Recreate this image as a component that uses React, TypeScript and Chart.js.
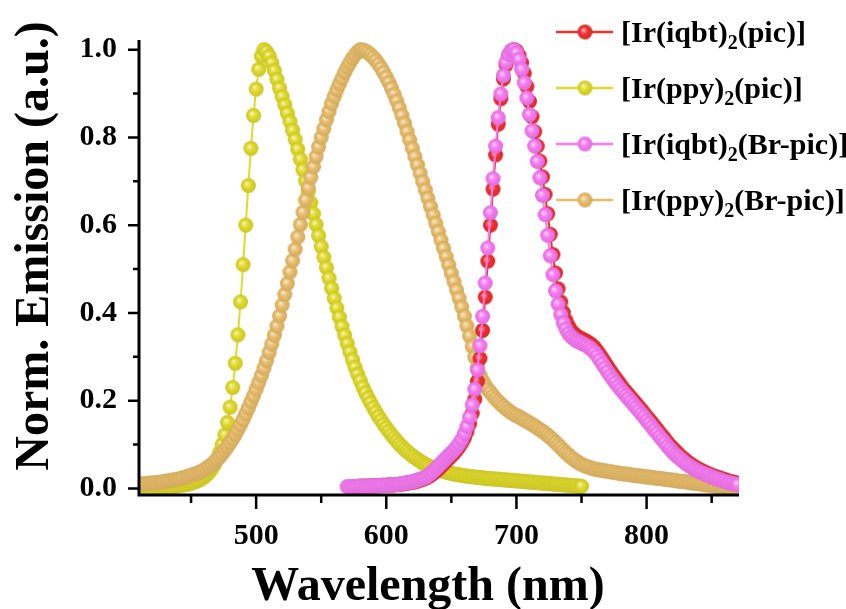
import React, { useEffect, useRef } from "react";
import { Chart, registerables } from "chart.js";
Chart.register(...registerables);

const STEP = 2;
const xMin = 410;
const xMax = 871;
const yMin = -0.015;
const yMax = 1.022;
const xTickValues = [500, 600, 700, 800];
const xMinorTicks = [450, 550, 650, 750, 850];
const yTickValues = [0, 0.2, 0.4, 0.6, 0.8, 1.0];
const yMinorTicks = [0.1, 0.3, 0.5, 0.7, 0.9];

const seriesLabels = [
  "[Ir(iqbt)2(pic)]",
  "[Ir(ppy)2(pic)]",
  "[Ir(iqbt)2(Br-pic)]",
  "[Ir(ppy)2(Br-pic)]",
];
const seriesColors = ["#EE3030", "#E0DA2A", "#F77AF2", "#E8BD6A"];

const redStart = 580;
const redValues = [
  0.005,0.005,0.005,0.005,0.006,0.006,0.006,0.006,0.007,0.007,
  0.007,0.008,0.008,0.008,0.009,0.009,0.010,0.011,0.012,0.013,
  0.014,0.015,0.017,0.019,0.021,0.023,0.026,0.030,0.034,0.039,
  0.044,0.050,0.056,0.062,0.068,0.074,0.080,0.087,0.095,0.104,
  0.115,0.129,0.147,0.171,0.203,0.244,0.296,0.360,0.436,0.518,
  0.600,0.682,0.760,0.830,0.888,0.933,0.965,0.985,0.996,1.000,
  0.997,0.987,0.970,0.946,0.916,0.882,0.847,0.813,0.780,0.746,
  0.710,0.670,0.626,0.579,0.533,0.491,0.455,0.425,0.401,0.383,
  0.370,0.360,0.353,0.348,0.344,0.341,0.338,0.335,0.331,0.327,
  0.321,0.313,0.305,0.296,0.287,0.278,0.269,0.260,0.252,0.244,
  0.236,0.228,0.221,0.214,0.207,0.200,0.193,0.186,0.179,0.172,
  0.164,0.157,0.150,0.142,0.135,0.127,0.120,0.113,0.105,0.098,
  0.092,0.086,0.080,0.074,0.069,0.064,0.059,0.055,0.051,0.047,
  0.044,0.041,0.038,0.035,0.033,0.030,0.028,0.026,0.024,0.022,
  0.020,0.018,0.016,0.015,0.013,
  0.012,
];

const yellowStart = 410;
const yellowValues = [
  0.000,0.000,0.000,0.001,0.001,0.001,0.001,0.002,0.002,0.002,
  0.003,0.003,0.004,0.004,0.005,0.006,0.007,0.008,0.009,0.010,
  0.012,0.014,0.016,0.019,0.022,0.026,0.031,0.037,0.045,0.055,
  0.067,0.082,0.100,0.122,0.150,0.185,0.230,0.285,0.350,0.425,
  0.510,0.600,0.690,0.775,0.850,0.910,0.955,0.985,1.000,0.995,
  0.985,0.970,0.952,0.932,0.912,0.893,0.874,0.855,0.836,0.816,
  0.795,0.773,0.750,0.726,0.701,0.676,0.651,0.626,0.601,0.576,
  0.551,0.527,0.503,0.479,0.456,0.433,0.411,0.390,0.369,0.349,
  0.330,0.311,0.293,0.276,0.260,0.245,0.231,0.218,0.206,0.195,
  0.184,0.174,0.164,0.155,0.146,0.138,0.130,0.122,0.115,0.108,
  0.101,0.095,0.089,0.084,0.079,0.074,0.070,0.066,0.062,0.058,
  0.055,0.052,0.049,0.047,0.045,0.043,0.041,0.039,0.037,0.036,
  0.034,0.033,0.032,0.031,0.030,0.029,0.028,0.027,0.027,0.026,
  0.025,0.025,0.024,0.023,0.023,0.022,0.022,0.021,0.021,0.020,
  0.020,0.019,0.019,0.018,0.018,0.017,0.017,0.016,0.016,0.015,
  0.015,0.014,0.014,0.013,0.013,0.012,0.012,0.011,0.011,0.010,
  0.010,0.009,0.009,0.008,0.008,0.007,0.007,0.006,0.006,0.005,
  0.005,
];

const pinkStart = 570;
const pinkValues = [
  0.004,0.004,0.004,0.004,0.005,0.005,0.005,0.005,0.005,0.006,
  0.006,0.006,0.006,0.007,0.007,0.007,0.008,0.008,0.009,0.009,
  0.010,0.011,0.012,0.013,0.014,0.015,0.017,0.019,0.021,0.023,
  0.025,0.029,0.034,0.039,0.045,0.051,0.057,0.063,0.069,0.075,
  0.081,0.087,0.094,0.102,0.112,0.125,0.141,0.162,0.190,0.226,
  0.270,0.325,0.392,0.468,0.548,0.628,0.706,0.780,0.845,0.899,
  0.941,0.971,0.989,0.998,1.000,0.993,0.978,0.955,0.925,0.890,
  0.852,0.815,0.780,0.745,0.708,0.668,0.624,0.577,0.530,0.487,
  0.450,0.420,0.396,0.377,0.363,0.353,0.346,0.341,0.337,0.334,
  0.331,0.328,0.325,0.321,0.316,0.310,0.302,0.293,0.284,0.275,
  0.266,0.257,0.249,0.241,0.233,0.226,0.219,0.212,0.205,0.198,
  0.191,0.184,0.177,0.170,0.163,0.155,0.148,0.140,0.133,0.126,
  0.118,0.111,0.104,0.096,0.090,0.083,0.077,0.072,0.067,0.062,
  0.057,0.053,0.049,0.045,0.042,0.039,0.036,0.034,0.031,0.029,
  0.026,0.024,0.022,0.020,0.018,0.016,0.014,0.013,0.011,0.010,
  0.009,
];

const orangeStart = 410;
const orangeValues = [
  0.010,0.010,0.011,0.011,0.012,0.012,0.013,0.013,0.014,0.015,
  0.016,0.017,0.018,0.019,0.020,0.021,0.023,0.024,0.026,0.028,
  0.030,0.032,0.034,0.036,0.039,0.042,0.046,0.050,0.055,0.060,
  0.066,0.072,0.079,0.087,0.095,0.104,0.113,0.123,0.134,0.145,
  0.157,0.170,0.183,0.197,0.211,0.226,0.241,0.257,0.274,0.291,
  0.310,0.329,0.349,0.370,0.393,0.418,0.442,0.467,0.493,0.519,
  0.545,0.573,0.601,0.629,0.657,0.685,0.709,0.733,0.756,0.778,
  0.800,0.820,0.840,0.859,0.877,0.893,0.908,0.922,0.935,0.948,
  0.960,0.970,0.980,0.988,0.995,1.000,0.999,0.997,0.993,0.988,
  0.982,0.975,0.967,0.958,0.948,0.937,0.925,0.912,0.898,0.883,
  0.867,0.850,0.832,0.813,0.794,0.775,0.756,0.737,0.718,0.699,
  0.680,0.661,0.642,0.623,0.604,0.585,0.566,0.547,0.528,0.509,
  0.490,0.471,0.452,0.433,0.413,0.392,0.370,0.347,0.323,0.299,
  0.276,0.258,0.245,0.235,0.226,0.219,0.211,0.204,0.198,0.192,
  0.187,0.182,0.177,0.173,0.169,0.166,0.163,0.160,0.156,0.153,
  0.149,0.146,0.142,0.138,0.134,0.130,0.126,0.121,0.116,0.111,
  0.105,0.099,0.093,0.087,0.081,0.076,0.071,0.066,0.062,0.058,
  0.055,0.052,0.050,0.048,0.046,0.044,0.043,0.042,0.041,0.040,
  0.039,0.038,0.037,0.036,0.035,0.034,0.033,0.033,0.032,0.031,
  0.030,0.029,0.029,0.028,0.027,0.026,0.026,0.025,0.024,0.023,
  0.023,0.022,0.021,0.020,0.020,0.019,0.018,0.017,0.016,0.016,
  0.015,0.014,0.013,0.012,0.012,0.011,0.010,0.009,0.008,0.008,
  0.007,0.006,0.005,0.005,0.004,0.003,0.003,0.002,0.001,0.001,
  0.001,
];

function toPoints(start: number, vals: number[]) {
  return vals.map((v, i) => ({ x: start + i * STEP, y: v }));
}

function hexToRgb(h: string) {
  const n = parseInt(h.slice(1), 16);
  return [(n >> 16) & 255, (n >> 8) & 255, n & 255];
}
function mix(h: string, t: number, withWhite = true) {
  const [r, g, b] = hexToRgb(h);
  const tgt = withWhite ? 255 : 0;
  const f = (c: number) => Math.round(c + (tgt - c) * t);
  return `rgb(${f(r)},${f(g)},${f(b)})`;
}

function makeBall(color: string, r: number) {
  const size = Math.ceil(r * 2) + 2;
  const c = document.createElement("canvas");
  c.width = size;
  c.height = size;
  const g = c.getContext("2d")!;
  const cx = size / 2;
  const cy = size / 2;
  const grad = g.createRadialGradient(cx - r * 0.25, cy - r * 0.3, 0, cx, cy, r);
  grad.addColorStop(0, mix(color, 0.8));
  grad.addColorStop(0.2, mix(color, 0.4));
  grad.addColorStop(0.5, color);
  grad.addColorStop(1, mix(color, 0.1, false));
  g.fillStyle = grad;
  g.beginPath();
  g.arc(cx, cy, r, 0, Math.PI * 2);
  g.fill();
  return c;
}

function drawRich(ctx: CanvasRenderingContext2D, text: string, x: number, baseline: number, size: number) {
  const parts = text.split("2");
  let cx = x;
  parts.forEach((p, i) => {
    ctx.font = `bold ${size}px "Liberation Serif"`;
    ctx.fillText(p, cx, baseline);
    cx += ctx.measureText(p).width;
    if (i < parts.length - 1) {
      ctx.font = `bold ${Math.round(size * 0.65)}px "Liberation Serif"`;
      ctx.fillText("2", cx, baseline + size * 0.22);
      cx += ctx.measureText("2").width;
    }
  });
}

export default function App() {
  const ref = useRef<HTMLCanvasElement | null>(null);
  useEffect(() => {
    if (!ref.current) return;
    const balls = seriesColors.map((c) => makeBall(c, 7.5));
    const legendBalls = seriesColors.map((c) => makeBall(c, 7.5));
    const seriesData = [
      toPoints(redStart, redValues),
      toPoints(yellowStart, yellowValues),
      toPoints(pinkStart, pinkValues),
      toPoints(orangeStart, orangeValues),
    ];
    // lower order is drawn on top
    const orders = [1, 3, 0, 2];

    const decor = {
      id: "decor",
      afterDatasetsDraw(chart: any) {
        const { ctx, chartArea } = chart;
        const { left, right, top, bottom } = chartArea;
        const xs = chart.scales.x;
        const ys = chart.scales.y;
        ctx.save();
        ctx.strokeStyle = "#000";
        ctx.lineWidth = 3;
        ctx.beginPath();
        ctx.moveTo(left, top);
        ctx.lineTo(left, bottom + 1.5);
        ctx.moveTo(left - 1.5, bottom);
        ctx.lineTo(right, bottom);
        ctx.stroke();
        ctx.lineWidth = 2.5;
        ctx.beginPath();
        xTickValues.forEach((v) => {
          const p = xs.getPixelForValue(v);
          ctx.moveTo(p, bottom);
          ctx.lineTo(p, bottom + 14);
        });
        xMinorTicks.forEach((v) => {
          const p = xs.getPixelForValue(v);
          ctx.moveTo(p, bottom);
          ctx.lineTo(p, bottom + 8);
        });
        yTickValues.forEach((v) => {
          const p = ys.getPixelForValue(v);
          ctx.moveTo(left, p);
          ctx.lineTo(left - 11, p);
        });
        yMinorTicks.forEach((v) => {
          const p = ys.getPixelForValue(v);
          ctx.moveTo(left, p);
          ctx.lineTo(left - 6, p);
        });
        ctx.stroke();
        ctx.restore();
      },
      afterDraw(chart: any) {
        const { ctx } = chart;
        ctx.save();
        ctx.fillStyle = "#000";
        ctx.textAlign = "center";
        ctx.textBaseline = "alphabetic";
        ctx.font = 'bold 48px "Liberation Serif"';
        ctx.fillText("Wavelength (nm)", 428, 600);
        ctx.save();
        ctx.translate(48, 246);
        ctx.rotate(-Math.PI / 2);
        ctx.fillText("Norm. Emission (a.u.)", 0, 0);
        ctx.restore();
        const rowY = [32, 88, 144, 200];
        ctx.textAlign = "left";
        seriesLabels.forEach((lab, i) => {
          const y = rowY[i];
          ctx.strokeStyle = seriesColors[i];
          ctx.lineWidth = 2.5;
          ctx.beginPath();
          ctx.moveTo(556, y);
          ctx.lineTo(613, y);
          ctx.stroke();
          const b = legendBalls[i];
          ctx.drawImage(b, 585 - b.width / 2, y - b.height / 2);
          ctx.fillStyle = "#000";
          drawRich(ctx, lab, 621, y + 10, 30);
        });
        ctx.restore();
      },
    };

    const chart = new Chart(ref.current, {
      type: "line",
      data: {
        datasets: seriesData.map((d, i) => ({
          label: seriesLabels[i],
          data: d,
          borderColor: seriesColors[i],
          backgroundColor: seriesColors[i],
          borderWidth: 2,
          pointStyle: balls[i] as any,
          pointRadius: 7.5,
          pointHoverRadius: 7.5,
          tension: 0,
          fill: false,
          order: orders[i],
        })),
      },
      options: {
        responsive: false,
        animation: false,
        events: [],
        layout: { padding: { top: 15, right: 107, left: 0, bottom: 0 } },
        plugins: { legend: { display: false }, tooltip: { enabled: false } },
        scales: {
          x: {
            type: "linear",
            min: xMin,
            max: xMax,
            grid: { display: false, drawTicks: false },
            border: { display: false },
            afterBuildTicks: (s: any) => {
              s.ticks = xTickValues.map((v) => ({ value: v }));
            },
            afterFit: (s: any) => {
              s.height = 114;
            },
            ticks: {
              padding: 23,
              color: "#000",
              font: { family: "Liberation Serif", size: 30, weight: "bold" },
              callback: (v: any) => String(v),
              maxRotation: 0,
            },
          },
          y: {
            type: "linear",
            min: yMin,
            max: yMax,
            grid: { display: false, drawTicks: false },
            border: { display: false },
            afterBuildTicks: (s: any) => {
              s.ticks = yTickValues.map((v) => ({ value: v }));
            },
            afterFit: (s: any) => {
              s.width = 139;
            },
            ticks: {
              padding: 22,
              color: "#000",
              font: { family: "Liberation Serif", size: 30, weight: "bold" },
              callback: (v: any) => Number(v).toFixed(1),
            },
          },
        },
      },
      plugins: [decor],
    } as any);
    return () => chart.destroy();
  }, []);

  return (
    <div style={{ position: "absolute", left: 0, top: 0, width: 846, height: 609, background: "#fff" }}>
      <canvas ref={ref} width={846} height={609} style={{ width: 846, height: 609, display: "block" }} />
    </div>
  );
}
